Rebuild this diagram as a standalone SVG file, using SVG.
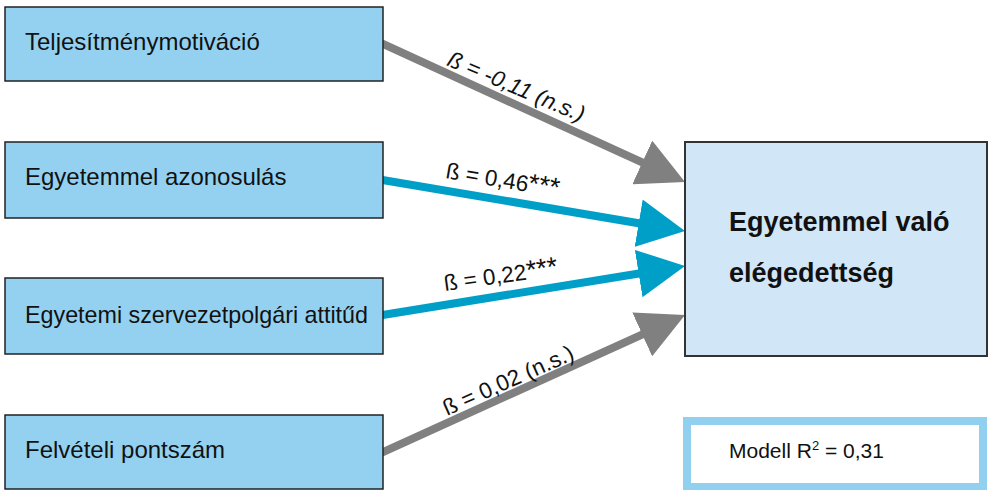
<svg xmlns="http://www.w3.org/2000/svg" width="988" height="490" viewBox="0 0 988 490">
  <style>
    .src { fill: #94D1F1; stroke: #222; stroke-width: 1.5; }
    .dst { fill: #D1E7F7; stroke: #333; stroke-width: 2; }
    .r2 { fill: #fff; stroke: #92D0F0; stroke-width: 8; }
    .lbl { font-family: "Liberation Sans", Arial, sans-serif; font-size: 24px; fill: #111; }
    .big { font-family: "Liberation Sans", Arial, sans-serif; font-size: 27px; font-weight: bold; fill: #111; }
    .beta { font-family: "Liberation Sans", Arial, sans-serif; font-size: 22.5px; fill: #111; }
    .star { font-size: 27px; }
    .small { font-family: "Liberation Sans", Arial, sans-serif; font-size: 21px; fill: #111; }
    .ns { stroke: #808080; stroke-width: 8; fill: none; }
    .sig { stroke: #009FC8; stroke-width: 8; fill: none; }
  </style>
  <defs>
    <marker id="headGray" viewBox="0 0 47 48" refX="27" refY="24" markerWidth="47" markerHeight="48" markerUnits="userSpaceOnUse" orient="auto">
      <path d="M0,0 L47,24 L0,48 Z" fill="#808080"/>
    </marker>
    <marker id="headBlue" viewBox="0 0 47 48" refX="27" refY="24" markerWidth="47" markerHeight="48" markerUnits="userSpaceOnUse" orient="auto">
      <path d="M0,0 L47,24 L0,48 Z" fill="#009FC8"/>
    </marker>
  </defs>

  <g id="connectors">
    <path class="ns" d="M378,41.7 L666.8,173.7" marker-end="url(#headGray)"/>
    <path class="sig" d="M378,179.2 L665.3,227.7" marker-end="url(#headBlue)"/>
    <path class="sig" d="M378,315.8 L665.3,269.2" marker-end="url(#headBlue)"/>
    <path class="ns" d="M378,454.3 L666.8,323.3" marker-end="url(#headGray)"/>
    <text class="beta" font-style="italic" transform="translate(446,65) rotate(23)">ß = -0,11 (n.s.)</text>
    <text class="beta" transform="translate(445,178) rotate(9.5)">ß = 0,46<tspan class="star">***</tspan></text>
    <text class="beta" transform="translate(445,291) rotate(-8)">ß = 0,22<tspan class="star">***</tspan></text>
    <text class="beta" transform="translate(447,416) rotate(-24)">ß = 0,02 (n.s.)</text>
  </g>

  <g id="node-teljesitmeny">
    <rect class="src" x="5" y="7" width="378" height="74"/>
    <text class="lbl" x="25" y="50">Teljesítménymotiváció</text>
  </g>
  <g id="node-azonosulas">
    <rect class="src" x="5" y="142" width="378" height="76"/>
    <text class="lbl" x="25" y="185">Egyetemmel azonosulás</text>
  </g>
  <g id="node-szervezetpolgari">
    <rect class="src" x="5" y="278" width="378" height="76"/>
    <text class="lbl" x="25" y="323" textLength="343" lengthAdjust="spacingAndGlyphs">Egyetemi szervezetpolgári attitűd</text>
  </g>
  <g id="node-felveteli">
    <rect class="src" x="5" y="415" width="378" height="74"/>
    <text class="lbl" x="25" y="458">Felvételi pontszám</text>
  </g>

  <g id="node-elegedettseg">
    <rect class="dst" x="685" y="142" width="302" height="214"/>
    <text class="big" x="729" y="231">Egyetemmel való</text>
    <text class="big" x="729" y="282">elégedettség</text>
  </g>

  <g id="node-modell">
    <rect class="r2" x="687" y="421" width="296" height="66"/>
    <text class="small" x="729" y="458">Modell R<tspan font-size="13px" dy="-8">2</tspan><tspan dy="8"> = 0,31</tspan></text>
  </g>
</svg>
